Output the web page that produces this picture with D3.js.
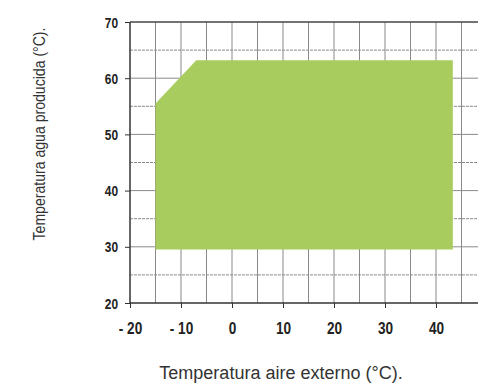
<!DOCTYPE html>
<html><head><meta charset="utf-8">
<script src="https://cdn.jsdelivr.net/npm/d3@7"></script>
<style>
html,body{margin:0;padding:0;background:#fff;overflow:hidden;}
svg{display:block;}
.tick text{font-family:"Liberation Sans Narrow","Arial Narrow","Liberation Sans",Arial,sans-serif;font-weight:bold;fill:#222;}
.title{font-family:"Liberation Sans",Arial,sans-serif;fill:#333;}
</style></head>
<body>
<script>
const xTicks = [-20, -10, 0, 10, 20, 30, 40];
const xTickLabels = ["- 20", "- 10", "0", "10", "20", "30", "40"];
const yTicks = [20, 30, 40, 50, 60, 70];
const xGrid = [-15, -10, -5, 0, 5, 10, 15, 20, 25, 30, 35, 40, 45, 50];
const yGrid = [25, 30, 35, 40, 45, 50, 55, 60, 65, 70];
const envelopeX = [-15, -15, -7, 43.3, 43.3];
const envelopeY = [29.5, 55.5, 63.2, 63.2, 29.5];
const xLabel = "Temperatura aire externo (°C).";
const yLabel = "Temperatura agua producida (°C).";

const W = 478, H = 387;
const SX = 0.85;
const svg = d3.select("body").append("svg").attr("width", W).attr("height", H);

const x = d3.scaleLinear().domain([-20, 40]).range([130, 436]);
const y = d3.scaleLinear().domain([20, 70]).range([303, 22]);

// grid
const g = svg.append("g");
g.selectAll("line.vg").data(xGrid).enter().append("line")
  .attr("x1", d => x(d)).attr("x2", d => x(d))
  .attr("y1", y(70)).attr("y2", y(20))
  .attr("stroke", "#8a8a8a").attr("stroke-width", 1);
g.selectAll("line.hg").data(yGrid).enter().append("line")
  .attr("x1", x(-20)).attr("x2", W)
  .attr("y1", d => y(d)).attr("y2", d => y(d))
  .attr("stroke", d => d === 70 ? "#444" : "#8a8a8a")
  .attr("stroke-width", d => d === 70 ? 1.3 : 1)
  .attr("stroke-dasharray", d => (d % 10 === 5) ? "3,1" : null);

// envelope
const pts = envelopeX.map((v, i) => [x(v), y(envelopeY[i])]);
svg.append("path")
  .attr("d", d3.line()(pts) + "Z")
  .attr("fill", "#a9cc5e");

// axes
const yAxis = d3.axisLeft(y).tickValues(yTicks).tickSize(5).tickFormat(d3.format("d"));
const ya = svg.append("g").attr("transform", `translate(${x(-20)},0)`).call(yAxis);
ya.select(".domain").remove();
ya.selectAll(".tick line").attr("stroke", "#333");
ya.selectAll(".tick text").style("font-size", "14px")
  .attr("x", -12 / SX).attr("dy", "0.36em")
  .attr("transform", `scale(${SX},1)`);
svg.append("line").attr("x1", x(-20)).attr("x2", x(-20)).attr("y1", y(70)).attr("y2", y(20))
  .attr("stroke", "#333").attr("stroke-width", 1.5);

const xAxis = d3.axisBottom(x).tickValues(xTicks).tickSize(5)
  .tickFormat((d, i) => xTickLabels[i]);
const xa = svg.append("g").attr("transform", `translate(0,${y(20)})`).call(xAxis);
xa.select(".domain").remove();
xa.selectAll(".tick line").attr("stroke", "#333");
xa.selectAll(".tick text").style("font-size", "16px")
  .attr("y", 31).attr("dy", 0)
  .attr("transform", `scale(${SX},1)`);
svg.append("line").attr("x1", x(-20)).attr("x2", W).attr("y1", y(20)).attr("y2", y(20))
  .attr("stroke", "#333").attr("stroke-width", 1.5);

// labels
svg.append("text").attr("class", "title")
  .attr("x", 281).attr("y", 379).attr("text-anchor", "middle")
  .style("font-size", "18px")
  .text(xLabel);
svg.append("text").attr("class", "title")
  .attr("transform", "translate(45,134) rotate(-90) scale(0.88,1)")
  .attr("text-anchor", "middle")
  .style("font-size", "16px")
  .text(yLabel);
</script>
</body></html>
